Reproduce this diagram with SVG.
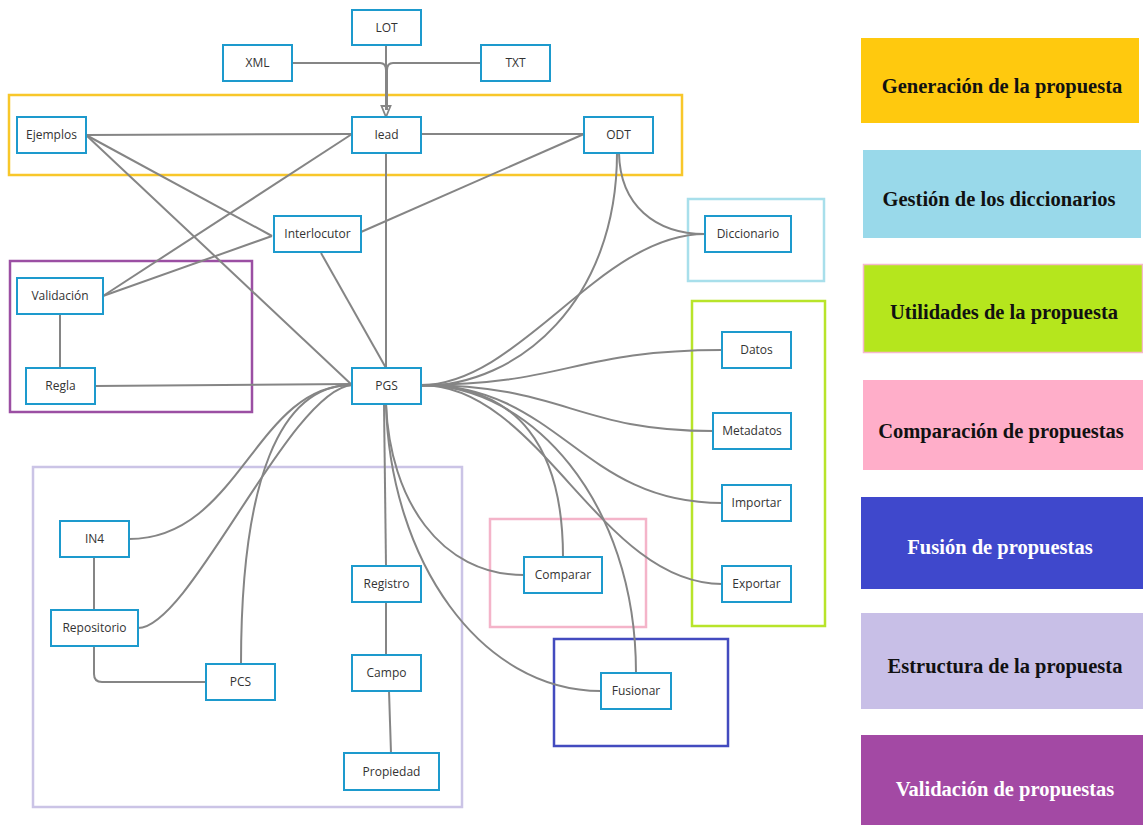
<svg xmlns="http://www.w3.org/2000/svg" width="1143" height="825" viewBox="0 0 1143 825">
<style>
.n rect{fill:#fff;stroke:#1d9acd;stroke-width:2}
.n text{font-family:"Open Sans","Noto Sans",sans-serif;font-size:12px;fill:#333;text-anchor:middle}
.c path{fill:none;stroke:#858585;stroke-width:2}
.r{fill:none;stroke-width:2.5}
.lg text{font-family:"Liberation Serif",serif;font-weight:bold;font-size:20.5px;text-anchor:middle}
</style>
<defs>
<marker id="tri" markerUnits="userSpaceOnUse" markerWidth="14" markerHeight="12" refX="12" refY="5.5" orient="auto">
<path d="M1,1 L12,5.5 L1,10 Z" fill="#fff" stroke="#858585" stroke-width="1.8"/>
</marker>
</defs>
<rect width="1143" height="825" fill="#fff"/>
<g id="regions">
<rect class="r" x="9" y="95" width="673" height="80" stroke="#f8c72a"/>
<rect class="r" x="688" y="199" width="136" height="82" stroke="#a8dfeb"/>
<rect class="r" x="10" y="261" width="242" height="151" stroke="#9b4fa3"/>
<rect class="r" x="692" y="301" width="133" height="325" stroke="#b8e42a"/>
<rect class="r" x="33" y="467" width="429" height="340" stroke="#cbc4e6"/>
<rect class="r" x="490" y="519" width="156" height="108" stroke="#f4b4c9"/>
<rect class="r" x="554" y="639" width="174" height="107" stroke="#434bbf"/>
</g>
<g id="legend" class="lg">
<rect x="861" y="38" width="278" height="85" fill="#ffc90e"/>
<text x="1002" y="93" fill="#111">Generación de la propuesta</text>
<rect x="863" y="150" width="278" height="88" fill="#99d9ea"/>
<text x="999" y="206" fill="#111">Gestión de los diccionarios</text>
<rect x="863.5" y="264.5" width="279" height="88" fill="#b5e61d" stroke="#f5b8cc" stroke-width="1.5"/>
<text x="1004" y="319" fill="#111">Utilidades de la propuesta</text>
<rect x="863" y="380" width="280" height="90" fill="#ffaec9"/>
<text x="1001" y="438" fill="#111">Comparación de propuestas</text>
<rect x="861" y="497" width="282" height="92" fill="#3f48cc"/>
<text x="1000" y="554" fill="#fff">Fusión de propuestas</text>
<rect x="861" y="613" width="282" height="96" fill="#c8bfe7"/>
<text x="1005" y="673" fill="#111">Estructura de la propuesta</text>
<rect x="861" y="735" width="282" height="90" fill="#a349a4"/>
<text x="1005" y="796" fill="#fff">Validación de propuestas</text>
</g>
<g id="connectors" class="c">
<path d="M386,45 V117" marker-end="url(#tri)"/>
<path d="M292,63 H380 Q386,63 386,70 V110"/>
<path d="M481,63 H393 Q387,63 387,70 V110"/>
<path d="M86,135 L352,134"/>
<path d="M86,135 L272,236"/>
<path d="M86,135 L352,385"/>
<path d="M352,134 L103,296"/>
<path d="M272,236 L103,296"/>
<path d="M361,232 L584,134"/>
<path d="M421,134 L584,134"/>
<path d="M386,153 V368"/>
<path d="M321,253 L386,368"/>
<path d="M95,386 L352,384"/>
<path d="M60,314 V368"/>
<path d="M619,153 C620,205 655,234 705,234"/>
<path d="M617,153 C617,300 520,386 421,386"/>
<path d="M705,234 C600,234 520,385 421,385"/>
<path d="M421,385 C565,385 575,350 722,350"/>
<path d="M421,385 C565,385 575,431 713,431"/>
<path d="M421,385 C560,385 580,503 722,503"/>
<path d="M421,385 C540,385 600,584 722,584"/>
<path d="M421,385 C520,385 563,450 563,557"/>
<path d="M421,385 C530,385 636,500 636,673"/>
<path d="M386,404 C390,500 440,575 524,575"/>
<path d="M386,404 C390,560 480,691 601,691"/>
<path d="M384,404 L386,566"/>
<path d="M352,385 C255,385 240,539 129,539"/>
<path d="M352,385 C290,390 190,628 138,628"/>
<path d="M352,385 C280,385 241,480 241,664"/>
<path d="M94,557 V610"/>
<path d="M94,646 V674 Q94,682 102,682 H206"/>
<path d="M386,602 V655"/>
<path d="M389,691 L391,753"/>
</g>
<g id="LOT" class="n"><rect x="352" y="10" width="69" height="35"/><text x="386.5" y="32" fill="#555">LOT</text></g>
<g id="XML" class="n"><rect x="223" y="45" width="69" height="36"/><text x="257.5" y="67">XML</text></g>
<g id="TXT" class="n"><rect x="481" y="45" width="69" height="36"/><text x="515.5" y="67">TXT</text></g>
<g id="Iead" class="n"><rect x="352" y="117" width="69" height="36"/><text x="386.5" y="139">Iead</text></g>
<g id="Ejemplos" class="n"><rect x="17" y="117" width="69" height="36"/><text x="51.5" y="139">Ejemplos</text></g>
<g id="ODT" class="n"><rect x="584" y="117" width="69" height="36"/><text x="618.5" y="139">ODT</text></g>
<g id="Interlocutor" class="n"><rect x="274" y="216" width="87" height="36"/><text x="317.5" y="238">Interlocutor</text></g>
<g id="Diccionario" class="n"><rect x="705" y="216" width="86" height="36"/><text x="748" y="238">Diccionario</text></g>
<g id="Validacion" class="n"><rect x="17" y="278" width="86" height="36"/><text x="60" y="300">Validación</text></g>
<g id="Regla" class="n"><rect x="26" y="368" width="69" height="36"/><text x="60.5" y="390">Regla</text></g>
<g id="PGS" class="n"><rect x="352" y="368" width="69" height="36"/><text x="386.5" y="390">PGS</text></g>
<g id="Datos" class="n"><rect x="722" y="332" width="69" height="36"/><text x="756.5" y="354">Datos</text></g>
<g id="Metadatos" class="n"><rect x="713" y="413" width="78" height="36"/><text x="752" y="435">Metadatos</text></g>
<g id="Importar" class="n"><rect x="722" y="485" width="69" height="36"/><text x="756.5" y="507">Importar</text></g>
<g id="Exportar" class="n"><rect x="722" y="566" width="69" height="36"/><text x="756.5" y="588">Exportar</text></g>
<g id="IN4" class="n"><rect x="60" y="521" width="69" height="36"/><text x="94.5" y="543">IN4</text></g>
<g id="Comparar" class="n"><rect x="524" y="557" width="78" height="36"/><text x="563" y="579">Comparar</text></g>
<g id="Registro" class="n"><rect x="352" y="566" width="69" height="36"/><text x="386.5" y="588">Registro</text></g>
<g id="Repositorio" class="n"><rect x="51" y="610" width="87" height="36"/><text x="94.5" y="632">Repositorio</text></g>
<g id="Campo" class="n"><rect x="352" y="655" width="69" height="36"/><text x="386.5" y="677">Campo</text></g>
<g id="PCS" class="n"><rect x="206" y="664" width="69" height="36"/><text x="240.5" y="686">PCS</text></g>
<g id="Fusionar" class="n"><rect x="601" y="673" width="70" height="36"/><text x="636" y="695">Fusionar</text></g>
<g id="Propiedad" class="n"><rect x="344" y="753" width="95" height="37"/><text x="391.5" y="776">Propiedad</text></g>
</svg>
